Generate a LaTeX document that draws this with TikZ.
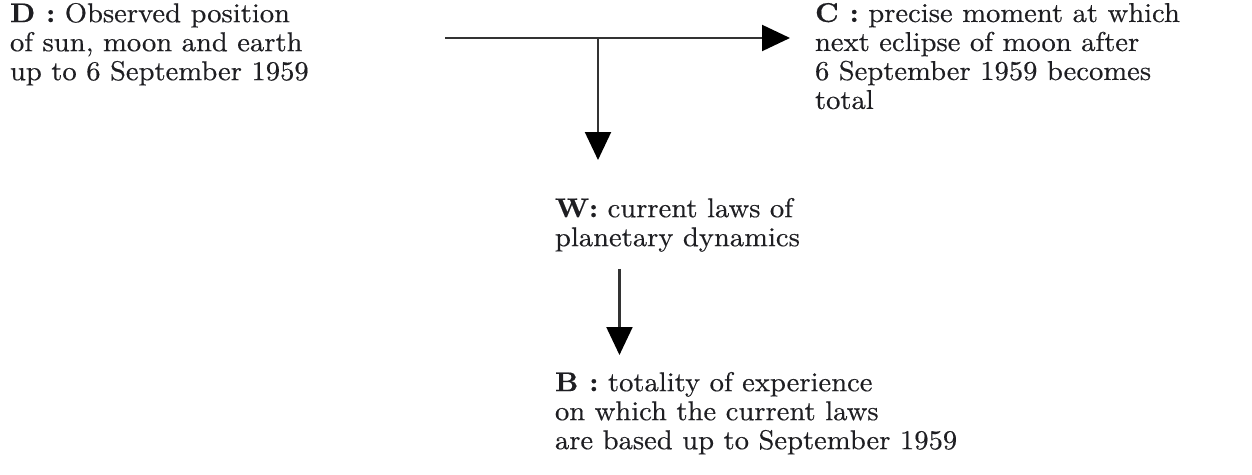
\documentclass[tikz,border=0pt]{standalone}
\usepackage{fontspec}
\setmainfont{lmroman10-regular.otf}[BoldFont=lmroman10-bold.otf, FakeStretch=1.05, FakeBold=0.4]
\usetikzlibrary{arrows.meta}
\definecolor{txtcol}{HTML}{1E1E22}
\definecolor{linecol}{HTML}{333333}
\tikzset{
  txt/.style={anchor=north west, inner sep=0pt, outer sep=0pt, align=left,
    font=\fontsize{15.5}{16.5}\selectfont, text=txtcol},
  conn/.style={draw=linecol, line width=1.2pt,
    -{Triangle[length=0.56cm, width=0.52cm, color=black, fill=black]}}
}
\begin{document}
\begin{tikzpicture}[x=0.02cm, y=-0.02cm]
\useasboundingbox[fill=white] (0,0) rectangle (1252,475);
\node[txt] (D) at (10,3) {\textbf{D :} Observed position\\of sun, moon and earth\\up to 6 September 1959};
\node[txt] (C) at (815,3) {\textbf{C :} precise moment at which\\next eclipse of moon after\\6 September 1959 becomes\\total};
\node[txt] (W) at (555,198) {\textbf{W:} current laws of\\planetary dynamics};
\node[txt] (B) at (555,372) {\textbf{B :} totality of experience\\on which the current laws\\are based up to September 1959};
\coordinate (s) at (445,38);
\coordinate (j) at (598,38);
\draw[conn] (s) -- ([xshift=-0.5cm]C.west |- s);
\draw[conn] (j) -- ([yshift=0.76cm]W.north -| j);
\path ([xshift=-1.16cm,yshift=-0.34cm]W.south) coordinate (wa);
\draw[conn] (wa) -- ([yshift=0.34cm]wa |- B.north);
\end{tikzpicture}
\end{document}
